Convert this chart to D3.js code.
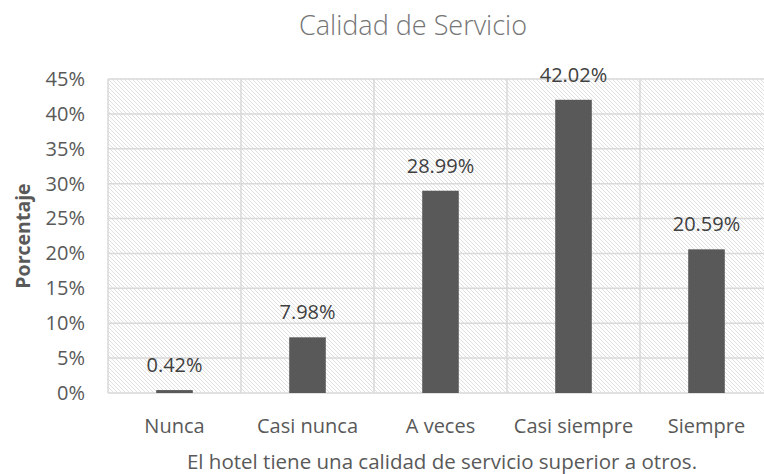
<!DOCTYPE html>
<html>
<head>
<meta charset="utf-8">
<script src="https://cdn.jsdelivr.net/npm/d3@7"></script>
<style>
  body { margin: 0; background: #fff; }
  text { font-family: "Open Sans", sans-serif; fill: #595959; }
</style>
</head>
<body>
<div id="chart"></div>
<script>
// data
var categories = ["Nunca", "Casi nunca", "A veces", "Casi siempre", "Siempre"];
var values = [0.42, 7.98, 28.99, 42.02, 20.59];
var yTicks = [0, 5, 10, 15, 20, 25, 30, 35, 40, 45];

var svgWidth = 764;
var svgHeight = 474;

var margin = { top: 79, right: -9, bottom: 81, left: 108 };
var chartWidth = svgWidth - margin.left - margin.right;
var chartHeight = svgHeight - margin.top - margin.bottom;

var svg = d3.select("#chart")
  .append("svg")
  .attr("width", svgWidth)
  .attr("height", svgHeight);

// hatched plot background
var defs = svg.append("defs");
var pat = defs.append("pattern")
  .attr("id", "hatch")
  .attr("patternUnits", "userSpaceOnUse")
  .attr("width", 4)
  .attr("height", 4);
pat.append("rect").attr("width", 4).attr("height", 4).attr("fill", "#fff");
pat.append("path")
  .attr("d", "M-1,-1 L5,5 M-1,3 L1,5 M3,-1 L5,1")
  .attr("stroke", "#e0e0e0")
  .attr("stroke-width", 1);

var chartGroup = svg.append("g")
  .attr("transform", `translate(${margin.left}, ${margin.top})`);

var x = d3.scaleBand()
  .domain(categories)
  .range([0, chartWidth])
  .paddingInner(0.725)
  .paddingOuter(0.3625);

var y = d3.scaleLinear()
  .domain([0, 45])
  .range([chartHeight, 0]);

chartGroup.append("rect")
  .attr("width", chartWidth)
  .attr("height", chartHeight)
  .attr("fill", "url(#hatch)");

// horizontal gridlines
chartGroup.append("g")
  .selectAll("line")
  .data(yTicks)
  .enter()
  .append("line")
  .attr("x1", 0)
  .attr("x2", chartWidth)
  .attr("y1", d => y(d))
  .attr("y2", d => y(d))
  .attr("stroke", "#d9d9d9")
  .attr("stroke-width", 1.5);

// vertical gridlines at category boundaries
chartGroup.append("g")
  .selectAll("line")
  .data(d3.range(categories.length + 1))
  .enter()
  .append("line")
  .attr("x1", i => i * chartWidth / categories.length)
  .attr("x2", i => i * chartWidth / categories.length)
  .attr("y1", 0)
  .attr("y2", chartHeight)
  .attr("stroke", "#d9d9d9")
  .attr("stroke-width", 1.5);

// y axis labels
var yAxis = d3.axisLeft(y)
  .tickValues(yTicks)
  .tickFormat(d => d + "%")
  .tickSize(0)
  .tickPadding(23);
var yAxisG = chartGroup.append("g").call(yAxis);
yAxisG.select(".domain").remove();
yAxisG.selectAll("text")
  .attr("font-size", 20)
  .attr("font-family", "'Open Sans', sans-serif")
  .attr("fill", "#595959");

// x axis labels
var xAxis = d3.axisBottom(x).tickSize(0).tickPadding(40);
var xAxisG = chartGroup.append("g")
  .attr("transform", `translate(0, ${chartHeight})`)
  .call(xAxis);
xAxisG.select(".domain").remove();
xAxisG.selectAll("text")
  .attr("dy", 0)
  .attr("font-size", 20)
  .attr("font-family", "'Open Sans', sans-serif")
  .attr("fill", "#595959");

// bars
chartGroup.selectAll(".bar")
  .data(values)
  .enter()
  .append("rect")
  .attr("class", "bar")
  .attr("x", (d, i) => x(categories[i]))
  .attr("y", d => y(d))
  .attr("width", x.bandwidth())
  .attr("height", d => chartHeight - y(d))
  .attr("fill", "#595959");

// value labels
chartGroup.selectAll(".val")
  .data(values)
  .enter()
  .append("text")
  .attr("class", "val")
  .attr("x", (d, i) => x(categories[i]) + x.bandwidth() / 2)
  .attr("y", d => y(d) - 18)
  .attr("text-anchor", "middle")
  .attr("font-size", 20)
  .style("fill", "#404040")
  .text(d => d.toFixed(2) + "%");

// title
svg.append("text")
  .attr("x", 413)
  .attr("y", 35)
  .attr("text-anchor", "middle")
  .attr("font-size", 27)
  .attr("font-weight", 300)
  .style("fill", "#757575")
  .text("Calidad de Servicio");

// x axis title
svg.append("text")
  .attr("x", 442)
  .attr("y", 469)
  .attr("text-anchor", "middle")
  .attr("font-size", 20.5)
  .text("El hotel tiene una calidad de servicio superior a otros.");

// y axis title
svg.append("text")
  .attr("transform", `translate(30, ${margin.top + chartHeight / 2}) rotate(-90)`)
  .attr("text-anchor", "middle")
  .attr("font-size", 19.5)
  .attr("font-weight", "bold")
  .text("Porcentaje");
</script>
</body>
</html>
